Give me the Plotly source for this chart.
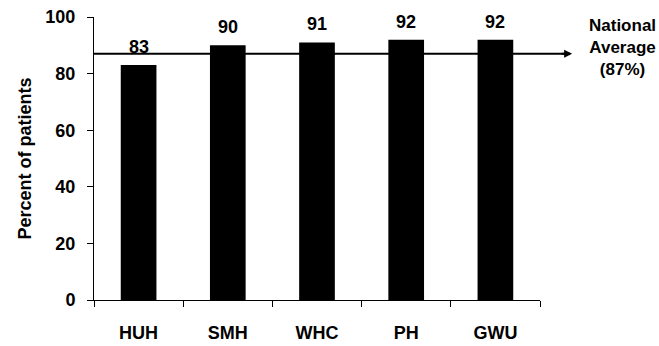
import plotly.graph_objects as go

hospitals = ["HUH", "SMH", "WHC", "PH", "GWU"]
percent = [83, 90, 91, 92, 92]
national_avg = 87
y_ticks = [0, 20, 40, 60, 80, 100]

FONT = "Liberation Sans, Arial, sans-serif"

fig = go.Figure(
    go.Bar(
        x=hospitals,
        y=percent,
        width=0.4,
        marker=dict(color="black", line=dict(width=0)),
        cliponaxis=False,
    )
)

# Value labels above each bar
for h, v in zip(hospitals, percent):
    fig.add_annotation(
        x=h, y=v, xref="x", yref="y", text=f"<b>{v}</b>",
        showarrow=False, yanchor="bottom", yshift=6,
        font=dict(family=FONT, size=18, color="black"),
    )

# National average reference line, running out past the plot to the label
fig.add_shape(
    type="line", xref="paper", yref="y",
    x0=0, x1=1.06, y0=national_avg, y1=national_avg,
    line=dict(color="black", width=2), layer="below",
)
fig.add_annotation(
    xref="paper", yref="y", x=1.072, y=national_avg,
    ax=-12, ay=0, text="", showarrow=True,
    arrowhead=2, arrowsize=0.8, arrowwidth=2, arrowcolor="black",
)
fig.add_annotation(
    xref="paper", yref="paper", x=1.185, y=0.892,
    xanchor="center", yanchor="middle",
    text="<b>National<br>Average<br>(87%)</b>", showarrow=False,
    font=dict(family=FONT, size=17, color="black"), align="center",
)

fig.update_layout(
    width=659, height=346,
    margin=dict(l=94, r=119, t=17, b=46, autoexpand=False),
    paper_bgcolor="white", plot_bgcolor="white",
    showlegend=False, bargap=0.6,
    font=dict(family=FONT, color="black"),
)
fig.update_xaxes(
    automargin=False,
    showline=True, linecolor="black", linewidth=1,
    ticks="outside", tickson="boundaries", ticklen=6, tickcolor="black",
    tickfont=dict(family=FONT, size=18, color="black"),
    tickvals=hospitals, ticktext=[f"<b>{h}</b>" for h in hospitals],
    ticklabelstandoff=16, showgrid=False,
)
fig.update_yaxes(
    automargin=False,
    range=[0, 100], showline=True, linecolor="black", linewidth=1,
    ticks="outside", ticklen=6, tickcolor="black",
    tickvals=y_ticks, ticktext=[f"<b>{t}</b>" for t in y_ticks],
    tickfont=dict(family=FONT, size=18, color="black"),
    ticklabelstandoff=8,
    showgrid=False, zeroline=False,
    title=dict(text="<b>Percent of patients</b>", font=dict(family=FONT, size=18, color="black"), standoff=9),
)

fig.write_html("out.html")
